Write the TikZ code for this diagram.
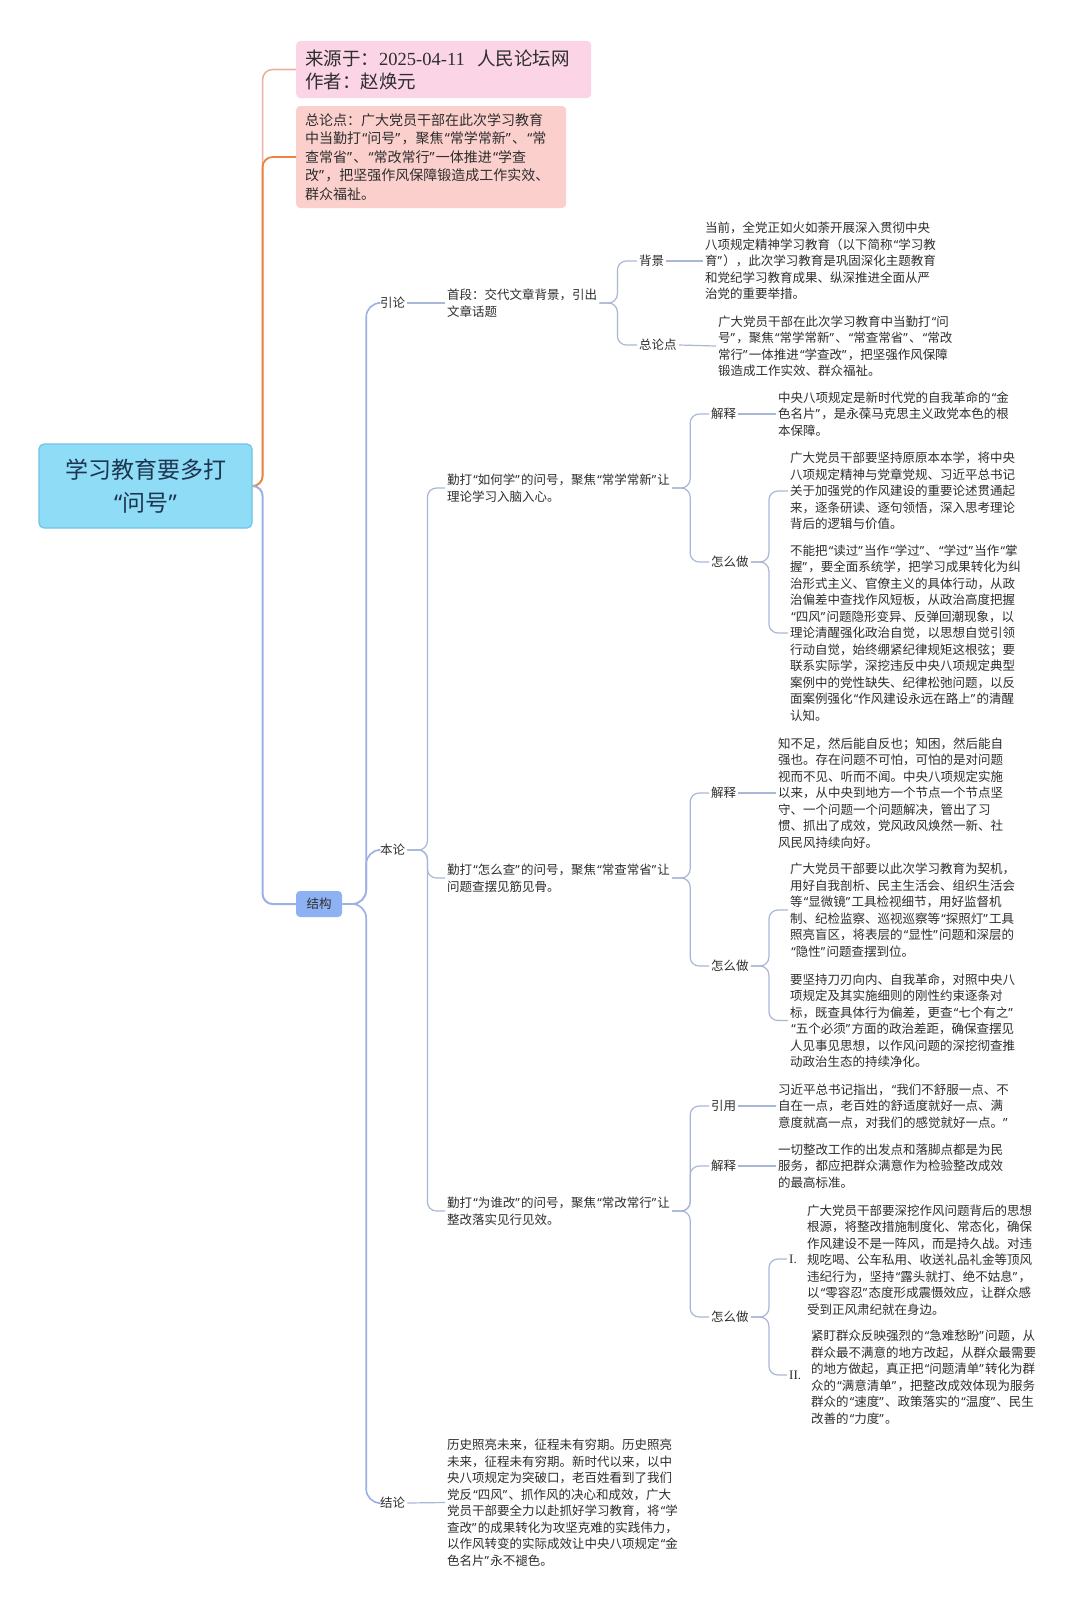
\documentclass[tikz,border=0pt]{standalone}
\usepackage{fontspec}
\setmainfont{Noto Sans CJK SC}
\newfontfamily\latinfont{Liberation Serif}
\newfontfamily\qfont{Noto Sans}
\usepackage{tikz}

\definecolor{rootfill}{HTML}{8FDCF7}
\definecolor{rootline}{HTML}{6CC5E9}
\definecolor{rootink}{HTML}{1E3550}
\definecolor{srcfill}{HTML}{FBD5E5}
\definecolor{thesisfill}{HTML}{FBD0CC}
\definecolor{jgfill}{HTML}{8DB1F3}
\definecolor{linkblue}{HTML}{9DB0E6}
\definecolor{twig}{HTML}{A9B7D6}
\definecolor{linkpink}{HTML}{EBB1A3}
\definecolor{linkorange}{HTML}{EA8440}
\definecolor{ink}{HTML}{2E2E2E}

% narrow quotes, as in the original
\catcode`“=\active
\catcode`”=\active
\def“{\kern1.2pt{\qfont\char"201C}}
\def”{{\qfont\char"201D}\kern1.2pt}

\begin{document}
\begin{tikzpicture}[x=1pt,y=-1pt,
  txt/.style={anchor=west,align=left,inner sep=2pt,text=ink,font=\fontsize{12.5}{16.5}\selectfont},
  topic/.style={anchor=west,align=left,rounded corners=4pt,inner xsep=9pt,inner ysep=4pt,text=ink},
  branch/.style={to path={-- ++(#1,0) |- (\tikztotarget)}},
  twigline/.style={draw=twig,line width=1.2pt,rounded corners=9pt}]
\useasboundingbox[fill=white] (0,0) rectangle (1080,1611);

% central topic and the two notes
\node[draw=rootline,fill=rootfill,line width=1.2pt,rounded corners=5pt,minimum width=213pt,minimum height=84pt,align=center,text=rootink,font=\fontsize{23}{33}\selectfont] (root) at (145.5,486) {学习教育要多打\\“问号”};
\node[topic,fill=srcfill,text width=277pt,minimum height=57pt,font=\fontsize{18.5}{23}\selectfont] (src) at (296,69.5) {来源于：{\latinfont 2025-04-11}\ \ 人民论坛网\\作者：赵焕元};
\node[topic,fill=thesisfill,text width=252pt,minimum height=102pt,font=\fontsize{14}{18.5}\selectfont] (thesis) at (296,157) {总论点：广大党员干部在此次学习教育\\中当勤打“问号”，聚焦“常学常新”、“常\\查常省”、“常改常行”一体推进“学查\\改”，把坚强作风保障锻造成工作实效、\\群众福祉。};
\node[fill=jgfill,rounded corners=4pt,minimum width=46pt,minimum height=26pt,inner sep=2pt,text=ink,font=\fontsize{12.5}{15}\selectfont] (jg) at (319,904) {结构};

% 引论
\node[txt] (yl) at (378,303) {引论};
\node[txt] (sd) at (445,303) {首段：交代文章背景，引出\\文章话题};
\node[txt] (bj) at (637,261) {背景};
\node[txt] (bjt) at (703,261) {当前，全党正如火如荼开展深入贯彻中央\\八项规定精神学习教育（以下简称“学习教\\育”），此次学习教育是巩固深化主题教育\\和党纪学习教育成果、纵深推进全面从严\\治党的重要举措。};
\node[txt] (zld) at (637,345) {总论点};
\node[txt] (zldt) at (716,346) {广大党员干部在此次学习教育中当勤打“问\\号”，聚焦“常学常新”、“常查常省”、“常改\\常行”一体推进“学查改”，把坚强作风保障\\锻造成工作实效、群众福祉。};

% 本论
\node[txt] (bl) at (378,850) {本论};
\node[txt] (q1) at (445,488) {勤打“如何学”的问号，聚焦“常学常新”让\\理论学习入脑入心。};
\node[txt] (js1) at (709,414) {解释};
\node[txt] (js1t) at (776,414) {中央八项规定是新时代党的自我革命的“金\\色名片”，是永葆马克思主义政党本色的根\\本保障。};
\node[txt] (zm1) at (709,562) {怎么做};
\node[txt] (zm1a) at (788,491) {广大党员干部要坚持原原本本学，将中央\\八项规定精神与党章党规、习近平总书记\\关于加强党的作风建设的重要论述贯通起\\来，逐条研读、逐句领悟，深入思考理论\\背后的逻辑与价值。};
\node[txt] (zm1b) at (788,633) {不能把“读过”当作“学过”、“学过”当作“掌\\握”，要全面系统学，把学习成果转化为纠\\治形式主义、官僚主义的具体行动，从政\\治偏差中查找作风短板，从政治高度把握\\“四风”问题隐形变异、反弹回潮现象，以\\理论清醒强化政治自觉，以思想自觉引领\\行动自觉，始终绷紧纪律规矩这根弦；要\\联系实际学，深挖违反中央八项规定典型\\案例中的党性缺失、纪律松弛问题，以反\\面案例强化“作风建设永远在路上”的清醒\\认知。};

\node[txt] (q2) at (445,878) {勤打“怎么查”的问号，聚焦“常查常省”让\\问题查摆见筋见骨。};
\node[txt] (js2) at (709,793) {解释};
\node[txt] (js2t) at (776,793) {知不足，然后能自反也；知困，然后能自\\强也。存在问题不可怕，可怕的是对问题\\视而不见、听而不闻。中央八项规定实施\\以来，从中央到地方一个节点一个节点坚\\守、一个问题一个问题解决，管出了习\\惯、抓出了成效，党风政风焕然一新、社\\风民风持续向好。};
\node[txt] (zm2) at (709,966) {怎么做};
\node[txt] (zm2a) at (788,910) {广大党员干部要以此次学习教育为契机，\\用好自我剖析、民主生活会、组织生活会\\等“显微镜”工具检视细节，用好监督机\\制、纪检监察、巡视巡察等“探照灯”工具\\照亮盲区，将表层的“显性”问题和深层的\\“隐性”问题查摆到位。};
\node[txt] (zm2b) at (788,1020.5) {要坚持刀刃向内、自我革命，对照中央八\\项规定及其实施细则的刚性约束逐条对\\标，既查具体行为偏差，更查“七个有之”\\“五个必须”方面的政治差距，确保查摆见\\人见事见思想，以作风问题的深挖彻查推\\动政治生态的持续净化。};

\node[txt] (q3) at (445,1211) {勤打“为谁改”的问号，聚焦“常改常行”让\\整改落实见行见效。};
\node[txt] (yy) at (709,1106) {引用};
\node[txt] (yyt) at (776,1106) {习近平总书记指出，“我们不舒服一点、不\\自在一点，老百姓的舒适度就好一点、满\\意度就高一点，对我们的感觉就好一点。”};
\node[txt] (js3) at (709,1166) {解释};
\node[txt] (js3t) at (776,1166) {一切整改工作的出发点和落脚点都是为民\\服务，都应把群众满意作为检验整改成效\\的最高标准。};
\node[txt] (zm3) at (709,1317) {怎么做};
\node[txt,font=\latinfont\fontsize{13}{16.5}\selectfont] (n1) at (787,1259) {I.};
\node[txt] (n1t) at (805,1260) {广大党员干部要深挖作风问题背后的思想\\根源，将整改措施制度化、常态化，确保\\作风建设不是一阵风，而是持久战。对违\\规吃喝、公车私用、收送礼品礼金等顶风\\违纪行为，坚持“露头就打、绝不姑息”，\\以“零容忍”态度形成震慑效应，让群众感\\受到正风肃纪就在身边。};
\node[txt,font=\latinfont\fontsize{13}{16.5}\selectfont] (n2) at (787,1375) {II.};
\node[txt] (n2t) at (809,1377) {紧盯群众反映强烈的“急难愁盼”问题，从\\群众最不满意的地方改起，从群众最需要\\的地方做起，真正把“问题清单”转化为群\\众的“满意清单”，把整改成效体现为服务\\群众的“速度”、政策落实的“温度”、民生\\改善的“力度”。};

% 结论
\node[txt] (jl) at (378,1503) {结论};
\node[txt] (jlt) at (445,1502.5) {历史照亮未来，征程未有穷期。历史照亮\\未来，征程未有穷期。新时代以来，以中\\央八项规定为突破口，老百姓看到了我们\\党反“四风”、抓作风的决心和成效，广大\\党员干部要全力以赴抓好学习教育，将“学\\查改”的成果转化为攻坚克难的实践伟力，\\以作风转变的实际成效让中央八项规定“金\\色名片”永不褪色。};

% connectors
\draw[linkpink,line width=1.6pt,rounded corners=10pt] (root.east) to[branch=10] (src.west);
\draw[linkorange,line width=1.8pt,rounded corners=10pt] (root.east) to[branch=10] (thesis.west);
\draw[linkblue,line width=2pt,rounded corners=10pt] (root.east) to[branch=10] (jg.west);
\foreach \c in {yl,bl,jl}
  \draw[linkblue,line width=1.6pt,rounded corners=14pt] (jg.east) to[branch=24] (\c.west);
\foreach \p/\c/\d in {sd/bj/18,sd/zld/18,bl/q1/20,bl/q2/20,bl/q3/20,
    q1/js1/18,q1/zm1/18,zm1/zm1a/18,zm1/zm1b/18,
    q2/js2/18,q2/zm2/18,zm2/zm2a/18,zm2/zm2b/18,
    q3/yy/18,q3/js3/18,q3/zm3/18,zm3/n1/18,zm3/n2/18}
  \draw[twigline] (\p.east) to[branch=\d] (\c.west);
\foreach \p/\c in {yl/sd,bj/bjt,zld/zldt,js1/js1t,js2/js2t,yy/yyt,js3/js3t,jl/jlt}
  \draw[twigline] (\p.east) -- (\c.west);
\end{tikzpicture}
\end{document}
